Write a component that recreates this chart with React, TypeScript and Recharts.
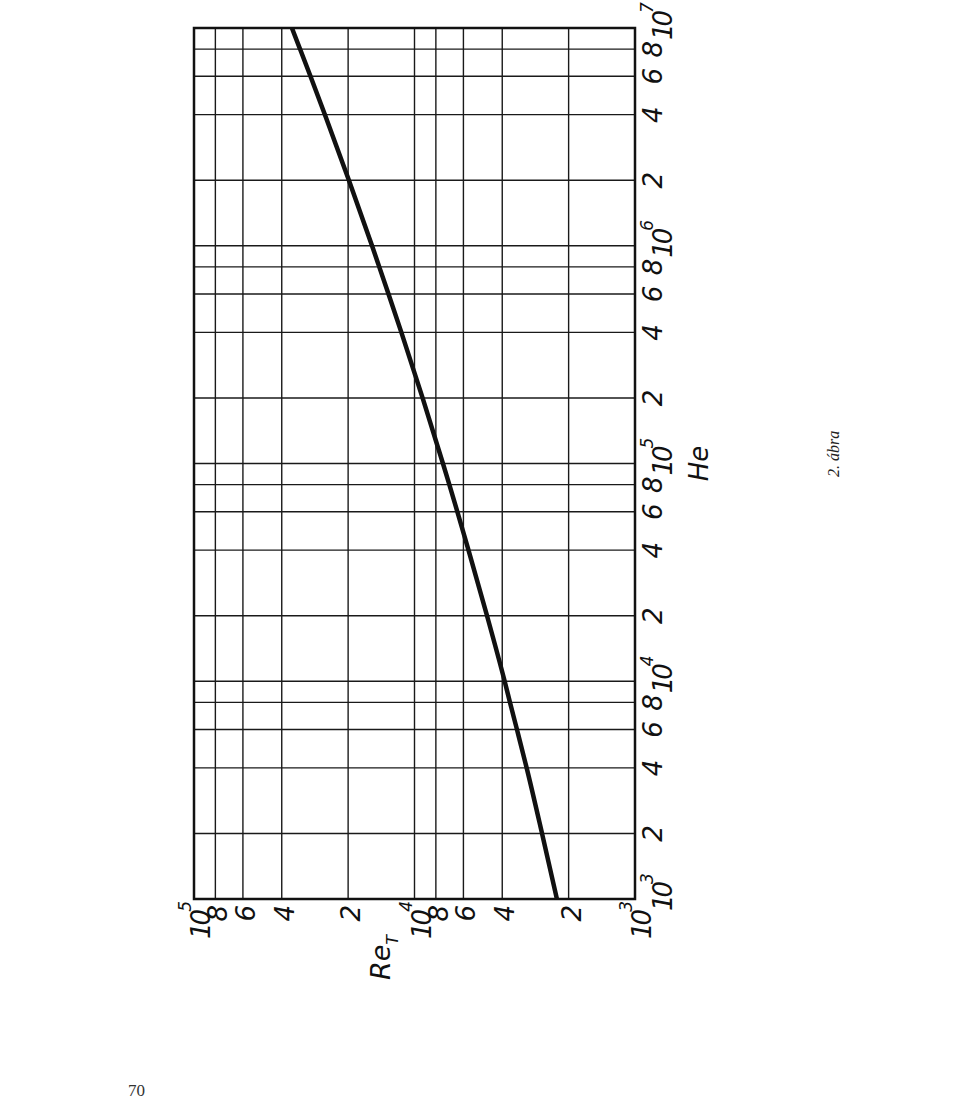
import React from "react";
import { LineChart, Line, XAxis, YAxis, CartesianGrid, ReferenceArea } from "recharts";

// He along the (rotated) long axis, Re_T across it
const heValues = [1e3, 2e3, 4e3, 6e3, 8e3, 1e4, 2e4, 4e4, 6e4, 8e4, 1e5, 2e5, 4e5, 6e5, 8e5, 1e6, 2e6, 4e6, 6e6, 8e6, 1e7];
const reValues = [2260, 2640, 3100, 3430, 3690, 3900, 4690, 5690, 6390, 6950, 7430, 9190, 11470, 13120, 14450, 15580, 19840, 25480, 29630, 33040, 35970];

const heTicks = [1e3, 2e3, 4e3, 6e3, 8e3, 1e4, 2e4, 4e4, 6e4, 8e4, 1e5, 2e5, 4e5, 6e5, 8e5, 1e6, 2e6, 4e6, 6e6, 8e6, 1e7];
const heTickLabels = ["10^3", "2", "4", "6", "8", "10^4", "2", "4", "6", "8", "10^5", "2", "4", "6", "8", "10^6", "2", "4", "6", "8", "10^7"];
const reTicks = [1e3, 2e3, 4e3, 6e3, 8e3, 1e4, 2e4, 4e4, 6e4, 8e4, 1e5];
const reTickLabels = ["10^3", "2", "4", "6", "8", "10^4", "2", "4", "6", "8", "10^5"];

const data = heValues.map((he, i) => ({ he, re: reValues[i] }));

const ink = "#111";
const font = { fontFamily: "DejaVu Sans", fontStyle: "italic" as const, fill: ink };

const HeTick = (props: any) => {
  const { x, y, payload } = props;
  const label = heTickLabels[heTicks.indexOf(payload.value)] || "";
  const [base, exp] = label.split("^");
  if (exp) {
    return (
      <text x={x - 12} y={y + 37} textAnchor="start" fontSize={26} letterSpacing={-3} {...font}>
        {base}
        <tspan dy={-19} fontSize={17}>{exp}</tspan>
      </text>
    );
  }
  return (
    <text x={x} y={y + 27} textAnchor="middle" fontSize={26} {...font}>
      {base}
    </text>
  );
};

const ReTick = (props: any) => {
  const { x, y, payload } = props;
  const label = reTickLabels[reTicks.indexOf(payload.value)] || "";
  const [base, exp] = label.split("^");
  if (exp) {
    return (
      <text x={x - 5} y={y + 16} textAnchor="end" fontSize={26} letterSpacing={-3} {...font}>
        {base}
        <tspan dy={-19} fontSize={17}>{exp}</tspan>
      </text>
    );
  }
  return (
    <text x={x - 6} y={y + 12} textAnchor="end" fontSize={26} {...font}>
      {base}
    </text>
  );
};

const App = () => {
  return (
    <div style={{ position: "absolute", left: 0, top: 0, width: 960, height: 1101, overflow: "hidden", background: "#fff" }}>
      {/* whole figure is printed turned 90deg, so the chart is rotated */}
      <div
        style={{
          position: "absolute",
          left: 0,
          top: 1000,
          width: 1000,
          height: 860,
          transform: "rotate(-90deg)",
          transformOrigin: "0 0",
        }}
      >
        <LineChart
          width={1000}
          height={730}
          data={data}
          margin={{ top: 194, right: 28, bottom: 35, left: 41 }}
        >
          <CartesianGrid stroke="#1a1a1a" strokeWidth={1.4} />
          <XAxis
            dataKey="he"
            type="number"
            scale="log"
            domain={[1e3, 1e7]}
            ticks={heTicks}
            interval={0}
            height={60}
            tickSize={0}
            tickMargin={0}
            tickLine={false}
            axisLine={false}
            tick={<HeTick />}
            label={(p: any) => {
              const vb = p.viewBox || { x: 101, y: 635, width: 871 };
              return (
                <text x={vb.x + vb.width / 2} y={vb.y + 73} textAnchor="middle" fontSize={26} {...font}>
                  He
                </text>
              );
            }}
          />
          <YAxis
            type="number"
            scale="log"
            domain={[1e3, 1e5]}
            ticks={reTicks}
            interval={0}
            width={60}
            tickSize={0}
            tickMargin={0}
            tickLine={false}
            axisLine={false}
            tick={<ReTick />}
            label={(p: any) => {
              const vb = p.viewBox || { x: 41, y: 194 };
              return (
                <text x={vb.x - 21} y={vb.y + 196} textAnchor="start" fontSize={27} {...font}>
                  Re
                  <tspan dy={8} fontSize={16}>T</tspan>
                </text>
              );
            }}
          />
          <ReferenceArea
            x1={1e3}
            x2={1e7}
            y1={1e3}
            y2={1e5}
            fill="none"
            stroke={ink}
            strokeWidth={2.5}
            ifOverflow="visible"
          />
          <Line
            type="monotone"
            dataKey="re"
            stroke={ink}
            strokeWidth={4.5}
            dot={false}
            isAnimationActive={false}
          />
        </LineChart>
        <div
          style={{
            position: "absolute",
            left: 523,
            top: 826,
            fontFamily: "Liberation Serif",
            fontStyle: "italic",
            fontSize: 16,
            lineHeight: 1,
            color: "#222",
            whiteSpace: "nowrap",
          }}
        >
          2. ábra
        </div>
      </div>
      <div
        style={{
          position: "absolute",
          left: 128,
          top: 1082,
          fontFamily: "Liberation Serif",
          fontSize: 17,
          lineHeight: 1,
          color: "#333",
        }}
      >
        70
      </div>
    </div>
  );
};

export default App;
